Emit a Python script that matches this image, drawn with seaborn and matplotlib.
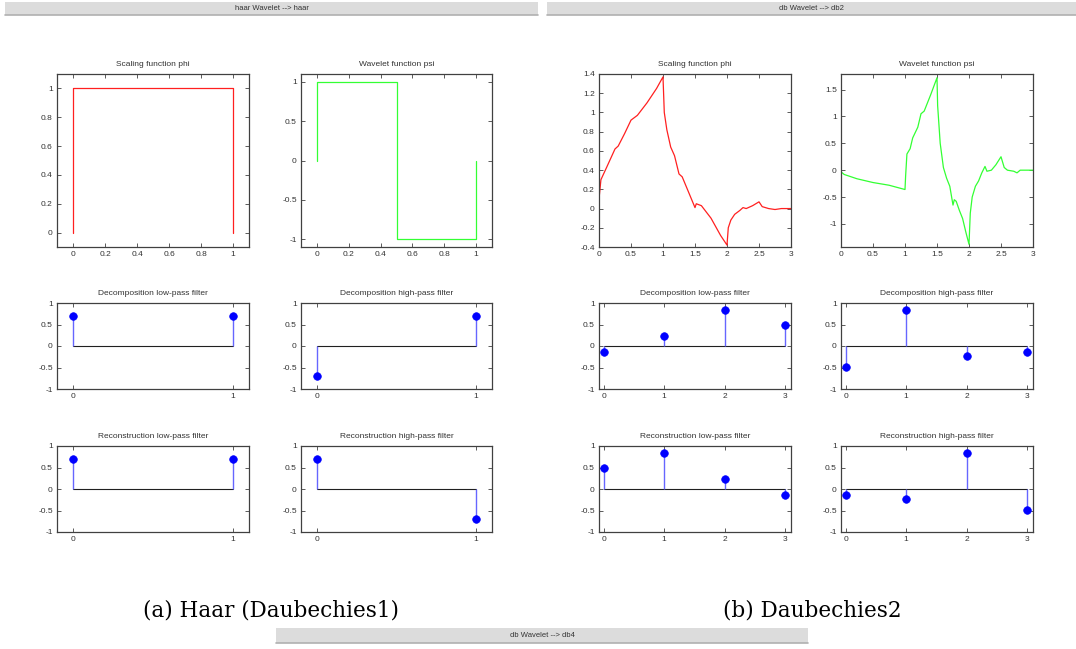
import numpy as np
import pandas as pd
import matplotlib
matplotlib.use("Agg")
import matplotlib.pyplot as plt
import seaborn as sns
from matplotlib.patches import Rectangle
from matplotlib.ticker import FuncFormatter

# ---------------- data ----------------
haar_phi_x = [0, 0, 1, 1]
haar_phi_y = [0, 1, 1, 0]
haar_psi_x = [0, 0, 0.5, 0.5, 1, 1]
haar_psi_y = [0, 1, 1, -1, -1, 0]

db2_phi_x = [0, 0.03, 0.12, 0.25, 0.3, 0.4, 0.5, 0.6, 0.75, 0.9, 1.0, 1.02, 1.06, 1.12, 1.18,
             1.25, 1.3, 1.4, 1.5, 1.52, 1.6, 1.75, 1.9, 2.0, 2.02, 2.06, 2.12, 2.2, 2.25, 2.3,
             2.4, 2.5, 2.55, 2.65, 2.75, 2.85, 3.0]
db2_phi_y = [0.1, 0.3, 0.43, 0.62, 0.65, 0.78, 0.92, 0.97, 1.1, 1.25, 1.37, 1.0, 0.82, 0.64, 0.55,
             0.36, 0.33, 0.17, 0.01, 0.05, 0.03, -0.1, -0.28, -0.38, -0.2, -0.12, -0.06, -0.02, 0.01, 0.0,
             0.03, 0.07, 0.02, 0.0, -0.01, 0.0, 0.0]

db2_psi_x = [0, 0.05, 0.25, 0.5, 0.75, 1.0, 1.01, 1.03, 1.08, 1.12, 1.2, 1.25, 1.3, 1.4, 1.5,
             1.51, 1.55, 1.6, 1.65, 1.7, 1.75, 1.77, 1.8, 1.85, 1.9, 1.95, 2.0, 2.02, 2.05, 2.1,
             2.15, 2.2, 2.25, 2.28, 2.35, 2.42, 2.5, 2.55, 2.6, 2.7, 2.75, 2.8, 3.0]
db2_psi_y = [-0.03, -0.08, -0.16, -0.23, -0.28, -0.36, -0.1, 0.3, 0.4, 0.6, 0.8, 1.05, 1.1, 1.4, 1.72,
             1.2, 0.5, 0.05, -0.15, -0.3, -0.65, -0.55, -0.58, -0.75, -0.9, -1.15, -1.38, -0.8, -0.5, -0.3,
             -0.2, -0.05, 0.07, -0.02, 0.0, 0.1, 0.25, 0.05, 0.0, -0.02, -0.05, 0.0, 0.0]

haar_dec_lo = [0.7071, 0.7071]
haar_dec_hi = [-0.7071, 0.7071]
haar_rec_lo = [0.7071, 0.7071]
haar_rec_hi = [0.7071, -0.7071]

db2_dec_lo = [-0.1294, 0.2241, 0.8365, 0.4830]
db2_dec_hi = [-0.4830, 0.8365, -0.2241, -0.1294]
db2_rec_lo = [0.4830, 0.8365, 0.2241, -0.1294]
db2_rec_hi = [-0.1294, -0.2241, 0.8365, -0.4830]

bar_titles = ["haar Wavelet --> haar", "db Wavelet --> db2", "db Wavelet --> db4"]
captions = ["(a) Haar (Daubechies1)", "(b) Daubechies2"]

# ---------------- style ----------------
sns.set_theme(style="white")
plt.rcParams['font.family'] = ['Liberation Sans', 'DejaVu Sans']
plt.rcParams['axes.unicode_minus'] = False

W, H = 1076, 649
fig = plt.figure(figsize=(W / 100, H / 100), dpi=100)
fig.patch.set_facecolor("white")

TXT = "#333333"
FS = 6


def px_axes(x0, y0, x1, y1):
    return fig.add_axes([x0 / W, 1 - y1 / H, (x1 - x0) / W, (y1 - y0) / H])


def style(ax, title):
    ax.set_facecolor("white")
    for s in ax.spines.values():
        s.set_color("#404040")
        s.set_linewidth(0.9)
    ax.tick_params(direction="in", length=3, width=0.6, colors="#404040",
                   labelsize=FS, labelcolor=TXT, top=True, right=True,
                   bottom=True, left=True, pad=3)
    ax.set_title(title, fontsize=FS, color=TXT, pad=6)
    ax.set_xlabel("")
    ax.set_ylabel("")
    fmt = FuncFormatter(lambda v, p: ("%g" % round(v, 6)))
    ax.xaxis.set_major_formatter(fmt)
    ax.yaxis.set_major_formatter(fmt)


def curve(ax, xs, ys, color, title, xlim, ylim, xticks, yticks):
    df = pd.DataFrame({"x": xs, "y": ys})
    sns.lineplot(data=df, x="x", y="y", ax=ax, sort=False, estimator=None,
                 color=color, linewidth=0.9)
    ax.set_xlim(*xlim)
    ax.set_ylim(*ylim)
    ax.set_xticks(xticks)
    ax.set_yticks(yticks)
    style(ax, title)


def stem(ax, vals, title, xlim):
    n = len(vals)
    idx = list(range(n))
    ax.plot([0, n - 1], [0, 0], color="#202020", linewidth=0.8, zorder=1)
    ax.vlines(idx, 0, vals, color="#6666ff", linewidth=1.0, zorder=2)
    df = pd.DataFrame({"x": idx, "y": vals})
    sns.scatterplot(data=df, x="x", y="y", ax=ax, color="#0000ff", s=30,
                    edgecolor="#0000ff", linewidth=0.5, zorder=3)
    ax.set_xlim(*xlim)
    ax.set_ylim(-1, 1)
    ax.set_xticks(idx)
    ax.set_yticks([-1, -0.5, 0, 0.5, 1])
    style(ax, title)


hx = [(57, 249), (301, 492)]
dx = [(599, 791), (841, 1033)]
rows = [(74, 247), (303, 389), (446, 532)]

# Haar
curve(px_axes(hx[0][0], rows[0][0], hx[0][1], rows[0][1]), haar_phi_x, haar_phi_y, "#ff2020",
      "Scaling function phi", (-0.1, 1.1), (-0.1, 1.1),
      [0, 0.2, 0.4, 0.6, 0.8, 1], [0, 0.2, 0.4, 0.6, 0.8, 1])
curve(px_axes(hx[1][0], rows[0][0], hx[1][1], rows[0][1]), haar_psi_x, haar_psi_y, "#33ff33",
      "Wavelet function psi", (-0.1, 1.1), (-1.1, 1.1),
      [0, 0.2, 0.4, 0.6, 0.8, 1], [-1, -0.5, 0, 0.5, 1])
stem(px_axes(hx[0][0], rows[1][0], hx[0][1], rows[1][1]), haar_dec_lo, "Decomposition low-pass filter", (-0.1, 1.1))
stem(px_axes(hx[1][0], rows[1][0], hx[1][1], rows[1][1]), haar_dec_hi, "Decomposition high-pass filter", (-0.1, 1.1))
stem(px_axes(hx[0][0], rows[2][0], hx[0][1], rows[2][1]), haar_rec_lo, "Reconstruction low-pass filter", (-0.1, 1.1))
stem(px_axes(hx[1][0], rows[2][0], hx[1][1], rows[2][1]), haar_rec_hi, "Reconstruction high-pass filter", (-0.1, 1.1))

# db2
curve(px_axes(dx[0][0], rows[0][0], dx[0][1], rows[0][1]), db2_phi_x, db2_phi_y, "#ff2020",
      "Scaling function phi", (0, 3), (-0.4, 1.4),
      [0, 0.5, 1, 1.5, 2, 2.5, 3], [-0.4, -0.2, 0, 0.2, 0.4, 0.6, 0.8, 1, 1.2, 1.4])
curve(px_axes(dx[1][0], rows[0][0], dx[1][1], rows[0][1]), db2_psi_x, db2_psi_y, "#33ff33",
      "Wavelet function psi", (0, 3), (-1.43, 1.79),
      [0, 0.5, 1, 1.5, 2, 2.5, 3], [-1, -0.5, 0, 0.5, 1, 1.5])
stem(px_axes(dx[0][0], rows[1][0], dx[0][1], rows[1][1]), db2_dec_lo, "Decomposition low-pass filter", (-0.08, 3.1))
stem(px_axes(dx[1][0], rows[1][0], dx[1][1], rows[1][1]), db2_dec_hi, "Decomposition high-pass filter", (-0.08, 3.1))
stem(px_axes(dx[0][0], rows[2][0], dx[0][1], rows[2][1]), db2_rec_lo, "Reconstruction low-pass filter", (-0.08, 3.1))
stem(px_axes(dx[1][0], rows[2][0], dx[1][1], rows[2][1]), db2_rec_hi, "Reconstruction high-pass filter", (-0.08, 3.1))

# window title bars
bars = [(5, 2, 538, 15), (547, 2, 1076, 15), (276, 628, 808, 643)]
for (x0, y0, x1, y1), t in zip(bars, bar_titles):
    fig.patches.append(Rectangle((x0 / W, 1 - y1 / H), (x1 - x0) / W, (y1 - y0) / H,
                                 transform=fig.transFigure, facecolor="#dcdcdc",
                                 edgecolor="none", zorder=0))
    fig.lines.append(matplotlib.lines.Line2D([x0 / W, x1 / W], [1 - y1 / H, 1 - y1 / H],
                                             transform=fig.transFigure, color="#b0b0b0",
                                             linewidth=1.2))
    fig.text((x0 + x1) / 2 / W, 1 - (y0 + y1) / 2 / H, t, ha="center", va="center",
             fontsize=5.5, color="#333333")

# captions
fig.text(271 / W, 1 - 610 / H, captions[0], ha="center", va="center", fontsize=15.5,
         family=["DejaVu Serif"], color="black")
fig.text(812 / W, 1 - 610 / H, captions[1], ha="center", va="center", fontsize=15.5,
         family=["DejaVu Serif"], color="black")

fig.savefig("out.png", dpi=100, facecolor="white")
